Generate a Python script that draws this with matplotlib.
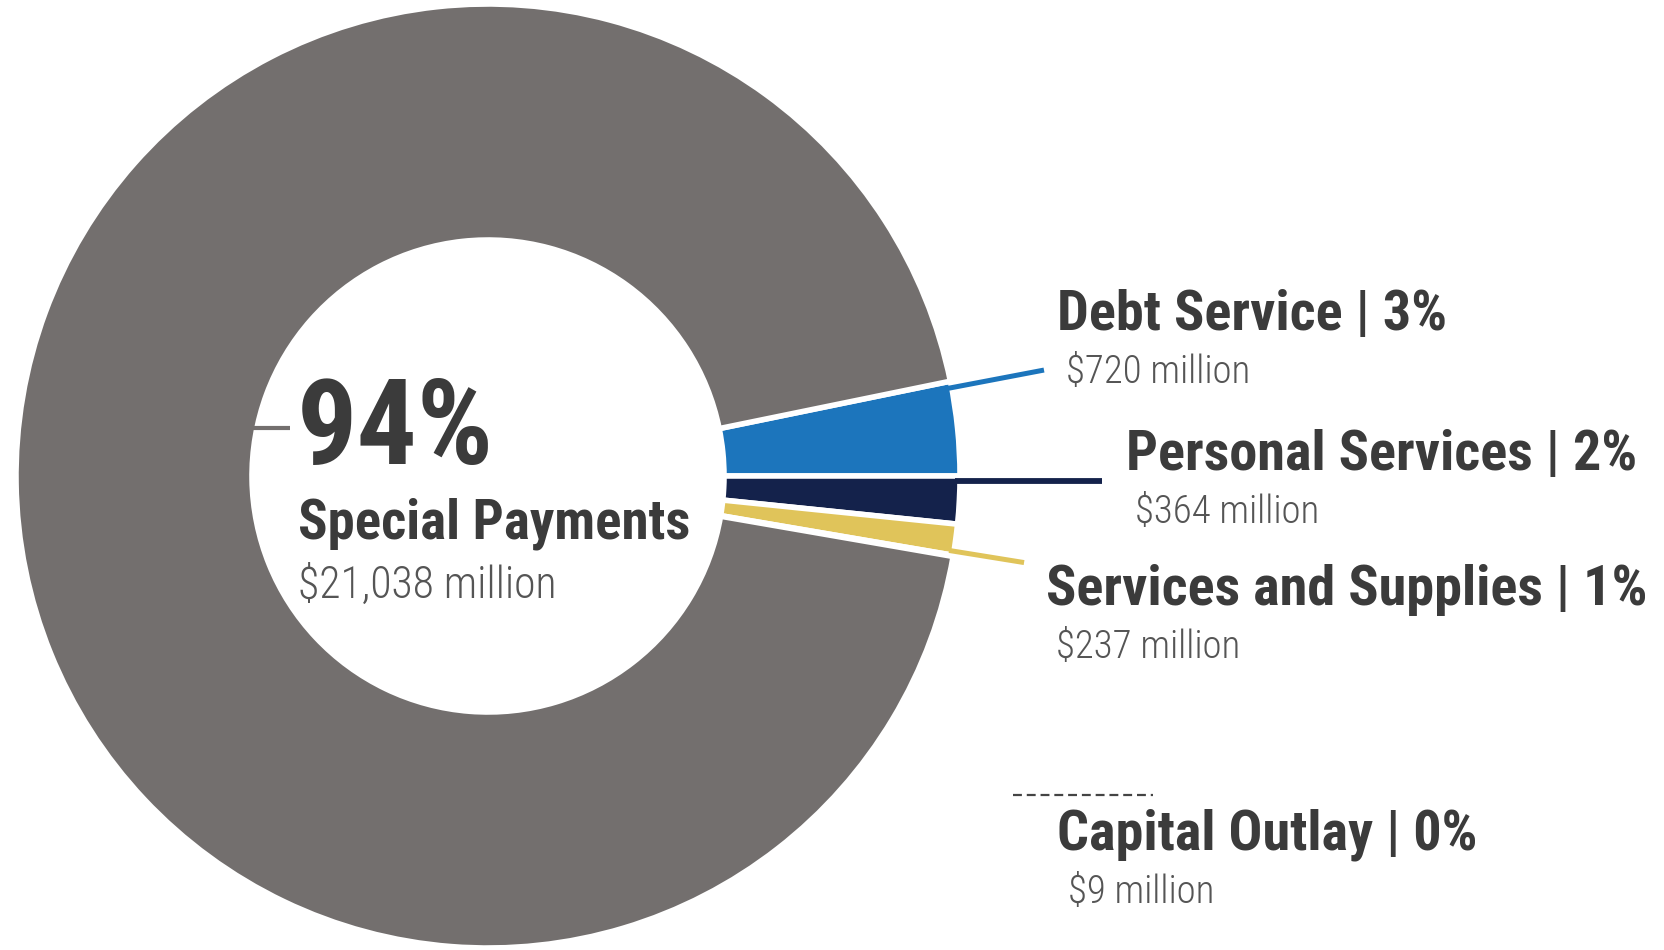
import numpy as np
import matplotlib
matplotlib.use("Agg")
import matplotlib.pyplot as plt
from matplotlib import font_manager

# ---- data ----
categories = ["Debt Service", "Personal Services", "Services and Supplies",
              "Capital Outlay", "Special Payments"]
amounts = [720, 364, 237, 9, 21038]          # $ million
percent_labels = ["3%", "2%", "1%", "0%", "94%"]
colors = ["#1c75bc", "#14224b", "#e0c45a", "#5a5a5a", "#736f6e"]

# ---- fonts ----
available = {f.name for f in font_manager.fontManager.ttflist}
def pick(prefs):
    for p in prefs:
        if p in available:
            return p
    return "DejaVu Sans"
FONT = pick(["Roboto Condensed", "Liberation Sans Narrow", "Roboto", "Liberation Sans"])

W, H = 1665, 950
fig = plt.figure(figsize=(W / 100, H / 100), dpi=100)
ax = fig.add_axes([0, 0, 1, 1])

cx, cy = 488, H - 476
R_OUT, R_IN = 472, 236
total = sum(amounts)
start = 360.0 * amounts[0] / total

wedges, _ = ax.pie(amounts, colors=colors, startangle=start, counterclock=False,
                   radius=R_OUT, center=(cx, cy),
                   wedgeprops=dict(width=R_OUT - R_IN, edgecolor="white", linewidth=4))

ax.set_xlim(0, W)
ax.set_ylim(0, H)
ax.set_aspect("equal")
ax.axis("off")

# boundary angles (degrees, measured counter-clockwise from +x)
bounds = start - 360.0 * np.concatenate([[0], np.cumsum(amounts)]) / total

def polar(r, a):
    t = np.deg2rad(a)
    return cx + r * np.cos(t), cy + r * np.sin(t)

# Debt Service leader: radial along the wedge's upper edge
a = bounds[0] - 0.8
x0, y0 = polar(R_OUT - 5, a)
x1, y1 = polar(566, a)
ax.plot([x0, x1], [y0, y1], color=colors[0], lw=3.6, solid_capstyle="butt")

# Personal Services leader: horizontal from the wedge's upper edge
a = bounds[1] - 0.6
x0, y0 = polar(R_OUT - 5, a)
ax.plot([x0, 1102], [y0, y0], color=colors[1], lw=4.2, solid_capstyle="butt")

# Services and Supplies leader: radial along the wedge's lower edge
a = bounds[3] + 0.5
x0, y0 = polar(R_OUT - 5, a)
x1, y1 = polar(543, a)
ax.plot([x0, x1], [y0, y1], color=colors[2], lw=3.6, solid_capstyle="butt")

# Capital Outlay marker (slice too thin to show)
ax.plot([1013, 1153], [H - 795, H - 795], color="#444444", lw=1.6,
        dashes=(4, 2.2))

# Special Payments tick
ax.plot([cx - R_IN, 290], [H - 428, H - 428], color=colors[4], lw=3.0,
        solid_capstyle="butt")

DARK = "#3b3b3b"
SUB = "#555555"

def money(v):
    return f"${v:,} million"

# centre label
ax.text(297, H - 464, percent_labels[4], fontsize=86, fontweight="bold",
        color=DARK, family=FONT, ha="left", va="baseline")
ax.text(298, H - 538, categories[4], fontsize=39.5, fontweight="bold",
        color=DARK, family=FONT, ha="left", va="baseline")
ax.text(298, H - 598, money(amounts[4]), fontsize=31.5, fontweight="light",
        color=SUB, family=FONT, ha="left", va="baseline")

# outside labels: (title x, title baseline, sub x, sub baseline)
spots = [(1057, 330, 1066, 383),
         (1126, 470, 1135, 523),
         (1046, 605, 1056, 658),
         (1057, 850, 1068, 903)]
for i, (tx, ty, sx, sy) in enumerate(spots):
    ax.text(tx, H - ty, f"{categories[i]} | {percent_labels[i]}", fontsize=40.5,
            fontweight="bold", color=DARK, family=FONT, ha="left", va="baseline")
    ax.text(sx, H - sy, money(amounts[i]), fontsize=28, fontweight="light",
            color=SUB, family=FONT, ha="left", va="baseline")

fig.savefig("out.png", dpi=100, facecolor="white")
